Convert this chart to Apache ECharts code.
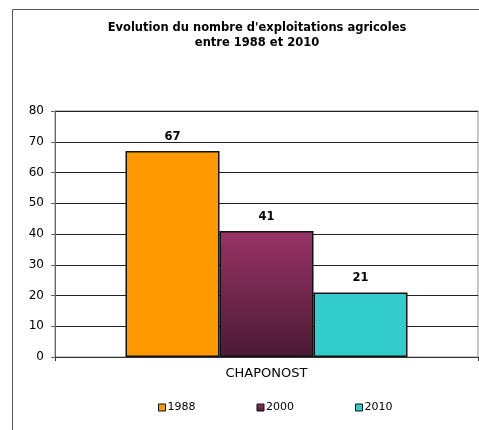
<!DOCTYPE html>
<html>
<head>
<meta charset="utf-8">
<script src="https://cdn.jsdelivr.net/npm/echarts@6/dist/echarts.min.js"></script>
<style>
  html, body { margin: 0; padding: 0; background: #fff; }
  #chart { width: 479px; height: 430px; }
</style>
</head>
<body>
<div id="chart"></div>
<script>
// Farm counts for Chaponost by census year
const categories = ['CHAPONOST'];
const years = ['1988', '2000', '2010'];
const values1988 = [67];
const values2000 = [41];
const values2010 = [21];
const yTicks = [0, 10, 20, 30, 40, 50, 60, 70, 80];

const FONT = '"DejaVu Sans", "Liberation Sans", Arial, sans-serif';

const chart = echarts.init(document.getElementById('chart'), null, { renderer: 'canvas' });

const labelStyle = {
  show: true,
  position: 'top',
  distance: 8,
  color: '#000',
  fontFamily: FONT,
  fontSize: 11.5,
  fontWeight: 'bold'
};

function barSeries(name, data, color) {
  return {
    name: name,
    type: 'bar',
    data: data,
    barWidth: 94,
    barGap: '0%',
    itemStyle: { color: color, borderColor: '#111', borderWidth: 1.5 },
    label: labelStyle
  };
}

const option = {
  animation: false,
  textStyle: { fontFamily: FONT },
  graphic: [
    {
      type: 'polyline',
      shape: { points: [[12.5, 430], [12.5, 9.5], [479, 9.5]] },
      style: { stroke: '#555', lineWidth: 1, fill: null }
    },
    {
      type: 'text',
      x: 257,
      y: 21,
      style: {
        text: "Evolution du nombre d'exploitations agricoles\nentre 1988 et 2010",
        textAlign: 'center',
        fontFamily: FONT,
        fontSize: 11.5,
        fontWeight: 'bold',
        lineHeight: 15,
        fill: '#000'
      }
    }
  ],
  legend: {
    data: years,
    left: 153,
    top: 397,
    itemWidth: 7,
    itemHeight: 7,
    itemGap: 61,
    icon: 'rect',
    itemStyle: { borderColor: '#111', borderWidth: 1 },
    textStyle: { fontFamily: FONT, fontSize: 11, color: '#000', padding: [0, 0, 0, -3] }
  },
  grid: {
    left: 55,
    right: 1,
    top: 111,
    bottom: 73,
    show: true,
    borderColor: '#888',
    borderWidth: 1
  },
  xAxis: {
    type: 'category',
    data: categories,
    axisLine: { lineStyle: { color: '#333', width: 1 } },
    axisTick: { show: true, length: 4, lineStyle: { color: '#333' }, alignWithLabel: false },
    axisLabel: { color: '#000', fontFamily: FONT, fontSize: 13, margin: 10 }
  },
  yAxis: {
    type: 'value',
    min: yTicks[0],
    max: yTicks[yTicks.length - 1],
    interval: 10,
    axisLine: { show: true, lineStyle: { color: '#666', width: 1 } },
    axisTick: { show: true, length: 4, lineStyle: { color: '#666' } },
    axisLabel: { color: '#000', fontFamily: FONT, fontSize: 12, margin: 11 },
    splitLine: { show: true, lineStyle: { color: '#222', width: 1 } }
  },
  series: [
    barSeries(years[0], values1988, '#ff9900'),
    barSeries(years[1], values2000, new echarts.graphic.LinearGradient(0, 0, 0, 1, [
      { offset: 0, color: '#993366' },
      { offset: 1, color: '#4a1a33' }
    ])),
    barSeries(years[2], values2010, '#33cccc')
  ]
};

chart.setOption(option);
</script>
</body>
</html>
